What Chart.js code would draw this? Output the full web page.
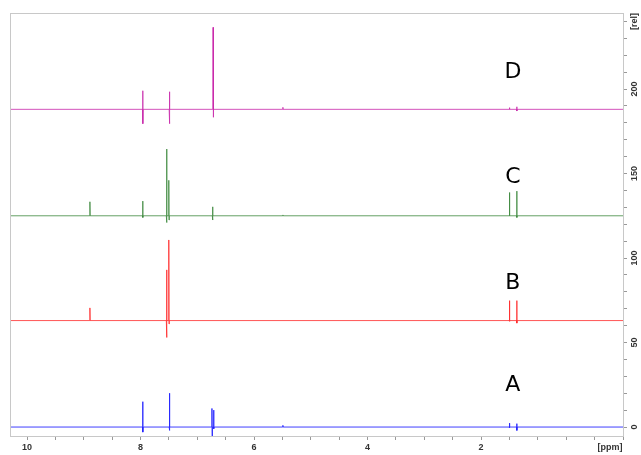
<!DOCTYPE html>
<html>
<head>
<meta charset="utf-8">
<script src="https://cdn.jsdelivr.net/npm/chart.js@4.4.0/dist/chart.umd.min.js"></script>
<style>
html, body { margin: 0; padding: 0; background: #fff; }
#wrap { width: 641px; height: 455px; }
</style>
</head>
<body>
<div id="wrap"><canvas id="nmrChart"></canvas></div>
<script>
// Spectra: name, baseline offset [rel], peaks as [ppm, height, dip]
const seriesNames = ['A', 'B', 'C', 'D'];
const seriesOffsets = [0, 63, 125, 188];
const seriesColors = ['rgba(30, 30, 255, 0.85)', 'rgba(255, 30, 30, 0.75)', 'rgba(50, 130, 50, 0.75)', 'rgba(200, 40, 170, 0.8)'];

const peaksA = [[7.96, 15, -3], [7.49, 20, -2], [6.74, 11, -6], [6.71, 10, -1], [5.49, 1, 0], [1.50, 2.3, -0.5], [1.37, 2, -2]];
const peaksB = [[8.89, 7.5, 0], [7.54, 30, -10], [7.50, 47.7, -2], [1.50, 11.8, -0.5], [1.37, 11.8, -1.5]];
const peaksC = [[8.89, 8.3, 0], [7.96, 8.7, -1], [7.54, 39.5, -4], [7.50, 21, -2.5], [6.73, 5.3, -2.5], [5.49, 0.5, 0], [1.50, 13.8, 0], [1.37, 14.6, -1]];
const peaksD = [[7.96, 11, -8.5], [7.49, 10.4, -8.5], [6.72, 48.5, -4.7], [5.49, 1.2, 0], [1.50, 1, 0], [1.37, 1.5, -1]];

const xTickValues = [10, 9.5, 9, 8.5, 8, 7.5, 7, 6.5, 6, 5.5, 5, 4.5, 4, 3.5, 3, 2.5, 2, 1.5, 1, 0.5, 0, -0.5];
const xTickLabels = [10, 8, 6, 4, 2];
const yTickValues = [0, 10, 20, 30, 40, 50, 60, 70, 80, 90, 100, 110, 120, 130, 140, 150, 160, 170, 180, 190, 200, 210, 220, 230, 240];
const yTickLabels = [0, 50, 100, 150, 200];

const X_MIN = -0.5, X_MAX = 10.3;
const Y_MIN = -5.3, Y_MAX = 245;

// turn the peak list into a line of thin spikes on the baseline
function buildSpectrum(peaks, offset) {
    const pts = [{x: X_MAX, y: offset}];
    peaks.slice().sort((a, b) => b[0] - a[0]).forEach(p => {
        pts.push({x: p[0] + 0.006, y: offset});
        pts.push({x: p[0] + 0.002, y: offset + p[1]});
        pts.push({x: p[0] - 0.002, y: offset + p[2]});
        pts.push({x: p[0] - 0.006, y: offset});
    });
    pts.push({x: X_MIN, y: offset});
    return pts;
}

const allPeaks = [peaksA, peaksB, peaksC, peaksD];
const datasets = seriesNames.map((name, i) => ({
    label: name,
    data: buildSpectrum(allPeaks[i], seriesOffsets[i]),
    borderColor: seriesColors[i],
    borderWidth: 1,
    pointRadius: 0,
    showLine: true,
    tension: 0
}));

const tickFont = 'bold 9px "Liberation Sans"';

// frame, rotated y labels, unit labels and spectrum letters
const labelRel = [25, 85, 148, 210];
const labelPpm = 1.44;
const nmrDecor = {
    id: 'nmrDecor',
    afterDraw(chart) {
        const ctx = chart.ctx;
        const a = chart.chartArea;
        const xs = chart.scales.x, ys = chart.scales.y;
        ctx.save();
        ctx.strokeStyle = '#c8c8c8';
        ctx.lineWidth = 1;
        ctx.strokeRect(a.left + 0.5, a.top + 0.5, a.right - a.left, a.bottom - a.top);

        ctx.fillStyle = '#333';
        ctx.font = tickFont;
        ctx.textAlign = 'center';
        ctx.textBaseline = 'middle';
        yTickLabels.forEach(v => {
            ctx.save();
            ctx.translate(a.right + 12, ys.getPixelForValue(v));
            ctx.rotate(-Math.PI / 2);
            ctx.fillText(String(v), 0, 0);
            ctx.restore();
        });
        ctx.save();
        ctx.translate(a.right + 12, ys.getPixelForValue(240));
        ctx.rotate(-Math.PI / 2);
        ctx.fillText('[rel]', 0, 0);
        ctx.restore();

        ctx.textBaseline = 'top';
        ctx.fillText('[ppm]', xs.getPixelForValue(-0.27), a.bottom + 7);

        ctx.fillStyle = '#000';
        ctx.font = '22px "DejaVu Sans"';
        ctx.textBaseline = 'middle';
        seriesNames.forEach((name, i) => {
            ctx.fillText(name, xs.getPixelForValue(labelPpm), ys.getPixelForValue(labelRel[i]));
        });
        ctx.restore();
    }
};

const chart = new Chart(document.getElementById('nmrChart'), {
    type: 'scatter',
    data: { datasets: datasets },
    options: {
        responsive: true,
        maintainAspectRatio: false,
        animation: false,
        layout: { padding: { top: 13, left: 10, right: 0, bottom: 0 } },
        plugins: { legend: { display: false }, tooltip: { enabled: false } },
        scales: {
            x: {
                type: 'linear',
                position: 'bottom',
                reverse: true,
                min: X_MIN,
                max: X_MAX,
                afterBuildTicks: scale => { scale.ticks = xTickValues.map(v => ({value: v})); },
                afterFit: scale => { scale.height = 19; },
                grid: { drawOnChartArea: false, drawTicks: true, tickLength: 4, color: '#999' },
                border: { color: '#c8c8c8' },
                ticks: {
                    autoSkip: false,
                    maxRotation: 0,
                    padding: 2,
                    color: '#333',
                    font: { family: 'Liberation Sans', size: 9, weight: 'bold' },
                    callback: v => xTickLabels.includes(v) ? String(v) : ''
                }
            },
            y: {
                type: 'linear',
                position: 'right',
                min: Y_MIN,
                max: Y_MAX,
                afterBuildTicks: scale => { scale.ticks = yTickValues.map(v => ({value: v})); },
                afterFit: scale => { scale.width = 18; },
                grid: { drawOnChartArea: false, drawTicks: true, tickLength: 4, color: '#999' },
                border: { color: '#c8c8c8' },
                ticks: { display: false }
            }
        }
    },
    plugins: [nmrDecor]
});
</script>
</body>
</html>
